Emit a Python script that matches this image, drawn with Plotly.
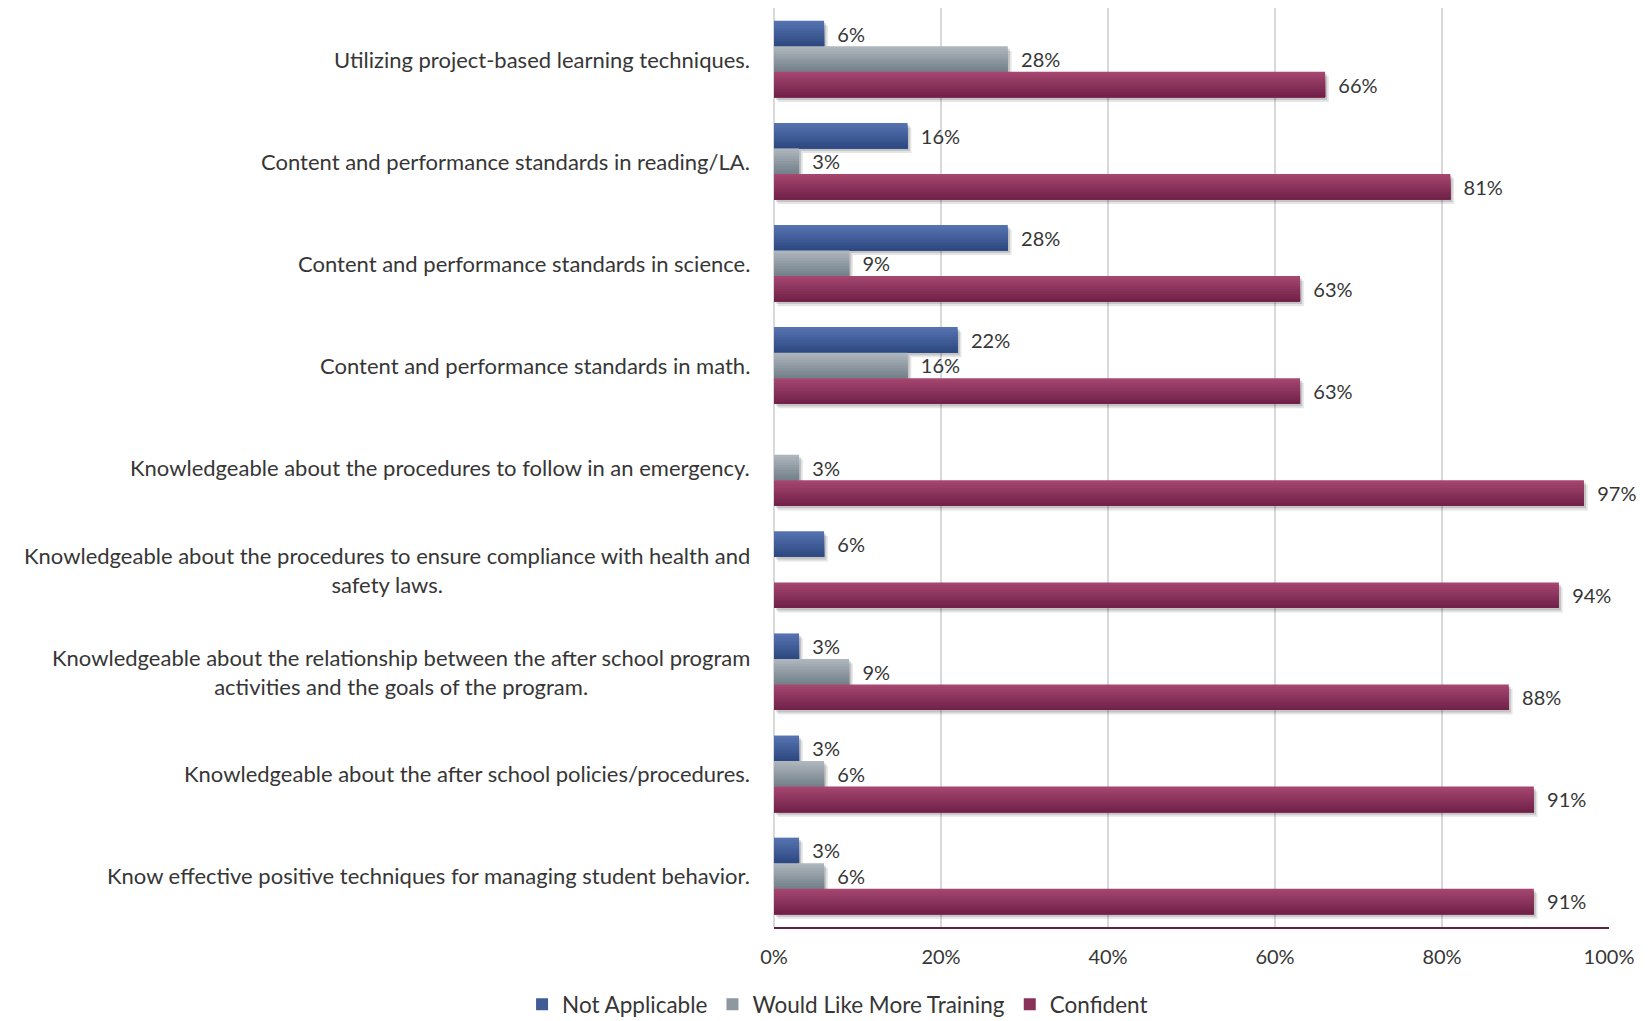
import plotly.graph_objects as go

# Survey items, listed top to bottom
categories = [
    "Utilizing project-based learning techniques.",
    "Content and performance standards in reading/LA.",
    "Content and performance standards in science.",
    "Content and performance standards in math.",
    "Knowledgeable about the procedures to follow in an emergency.",
    "Knowledgeable about the procedures to ensure compliance with health and<br>safety laws.",
    "Knowledgeable about the relationship between the after school program<br>activities and the goals of the program.",
    "Knowledgeable about the after school policies/procedures.",
    "Know effective positive techniques for managing student behavior.",
]

not_applicable = [6, 16, 28, 22, None, 6, 3, 3, 3]
more_training = [28, 3, 9, 16, 3, None, 9, 6, 6]
confident = [66, 81, 63, 63, 97, 94, 88, 91, 91]

x_ticks = [0, 20, 40, 60, 80, 100]

series = [
    ("Not Applicable", not_applicable, "#5572b0", "#2f4a82"),
    ("Would Like More Training", more_training, "#adb5bd", "#75818b"),
    ("Confident", confident, "#a4466f", "#72224a"),
]

FONT = "Lato, 'Open Sans', sans-serif"
TEXT = "#363636"
BAR_W = 0.25
STRIPS = 10


def hex_to_rgb(h):
    h = h.lstrip("#")
    return tuple(int(h[i:i + 2], 16) for i in (0, 2, 4))


def mix(c1, c2, t):
    a, b = hex_to_rgb(c1), hex_to_rgb(c2)
    r = [round(a[i] + (b[i] - a[i]) * t) for i in range(3)]
    return f"rgb({r[0]},{r[1]},{r[2]})"


fig = go.Figure()

for idx, (name, vals, top, bottom) in enumerate(series):
    off = -0.375 + idx * BAR_W

    # soft drop shadow under each bar
    for dy, dx, alpha in [(0.045, 0.45, 0.10), (0.025, 0.25, 0.14)]:
        fig.add_trace(go.Bar(
            y=categories, x=vals, orientation="h", base=dx,
            width=BAR_W, offset=off + dy,
            marker=dict(color=f"rgba(0,0,0,{alpha})", line=dict(width=0)),
            showlegend=False, hoverinfo="skip", legendgroup=name,
        ))

    # vertical gradient: each layer starts a little lower and runs to the
    # bottom edge, so the layers overlap without seams
    sw = BAR_W / STRIPS
    for k in range(STRIPS):
        fig.add_trace(go.Bar(
            y=categories, x=vals, orientation="h",
            width=BAR_W - k * sw, offset=off + k * sw,
            marker=dict(color=mix(top, bottom, k / (STRIPS - 1)), line=dict(width=0)),
            name=name, legendgroup=name,
            showlegend=(k == STRIPS // 2),
            hoverinfo="skip",
        ))

# value labels, drawn last so they sit on top of everything
for idx, (name, vals, top, bottom) in enumerate(series):
    off = -0.375 + idx * BAR_W
    fig.add_trace(go.Bar(
        y=categories, x=vals, orientation="h",
        width=BAR_W, offset=off,
        marker=dict(color="rgba(0,0,0,0)", line=dict(width=0)),
        text=["\u00a0\u00a0" + f"{v}%" if v is not None else "" for v in vals],
        textposition="outside", cliponaxis=False, constraintext="none",
        textfont=dict(family=FONT, size=20, color=TEXT),
        showlegend=False, name=name, hovertemplate="%{y}: %{x}%<extra></extra>",
    ))

# category labels, centred line by line, right edge near the axis
for cat in categories:
    fig.add_annotation(
        x=0, xref="paper", y=cat, yref="y",
        xanchor="right", yanchor="middle", xshift=-22,
        text=cat, showarrow=False, align="center",
        font=dict(family=FONT, size=22, color=TEXT),
    )

fig.update_layout(
    barmode="overlay",
    width=1652, height=1021,
    margin=dict(l=774, r=43, t=8, b=94),
    paper_bgcolor="white", plot_bgcolor="white",
    font=dict(family=FONT, size=20, color=TEXT),
    showlegend=True,
    legend=dict(
        orientation="h", xref="container", yref="container",
        x=0.507, xanchor="center", y=0.016, yanchor="middle",
        font=dict(family=FONT, size=22.5, color=TEXT),
        itemwidth=30, tracegroupgap=0,
    ),
    xaxis=dict(
        range=[0, 100], tickvals=x_ticks, ticktext=[f"{t}%" for t in x_ticks],
        showgrid=True, gridcolor="#d9d9d9", gridwidth=1.5,
        zeroline=True, zerolinecolor="#d9d9d9", zerolinewidth=1.5,
        showline=True, linecolor="#5e2343", linewidth=1.5,
        ticks="", ticklabelstandoff=11,
        tickfont=dict(family=FONT, size=20, color=TEXT),
        fixedrange=True,
    ),
    yaxis=dict(
        categoryorder="array", categoryarray=categories,
        autorange="reversed", showticklabels=False, showgrid=False,
        zeroline=False, showline=False, ticks="", fixedrange=True,
    ),
)

fig.write_html("out.html")
